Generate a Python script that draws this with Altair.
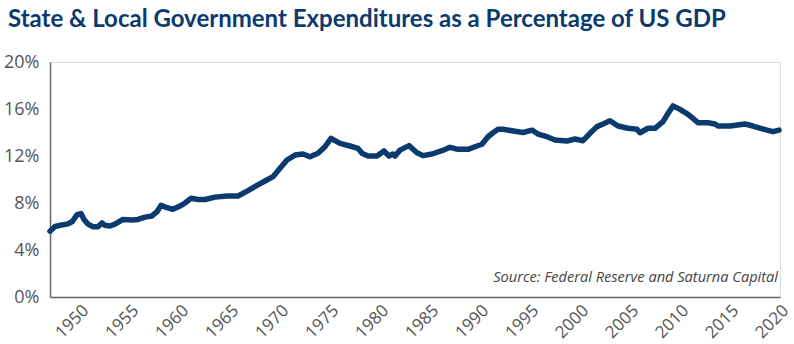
import altair as alt
import pandas as pd

years = [1947.0, 1947.5, 1948.0, 1948.7, 1949.2, 1949.7, 1950.1, 1950.4, 1950.8, 1951.3,
         1951.8, 1952.2, 1952.5, 1953.0, 1953.5, 1954.3, 1955.2, 1955.8, 1956.5, 1957.2,
         1957.7, 1958.1, 1958.7, 1959.3, 1960.0, 1960.5, 1961.1, 1961.8, 1962.5, 1963.5,
         1964.7, 1965.8, 1966.8, 1967.7, 1968.5, 1969.3, 1970.0, 1970.7, 1971.5, 1972.3,
         1973.0, 1973.8, 1974.5, 1975.1, 1976.0, 1977.0, 1977.8, 1978.2, 1978.8, 1979.7,
         1980.4, 1980.9, 1981.3, 1981.5, 1982.0, 1982.9, 1983.7, 1984.3, 1985.2, 1986.2,
         1987.0, 1987.8, 1988.8, 1989.7, 1990.2, 1990.8, 1991.3, 1991.8, 1992.3, 1993.2,
         1994.3, 1995.2, 1995.8, 1996.7, 1997.5, 1998.7, 1999.5, 2000.3, 2001.0, 2001.7,
         2002.3, 2003.0, 2003.8, 2004.8, 2005.7, 2006.0, 2006.8, 2007.5, 2008.3, 2008.8,
         2009.3, 2010.0, 2010.8, 2011.3, 2011.8, 2012.8, 2013.5, 2013.8, 2015.0, 2016.5,
         2017.3, 2018.7, 2019.3, 2019.9]
pct = [5.6, 6.0, 6.1, 6.2, 6.4, 7.0, 7.1, 6.6, 6.2, 5.98,
       5.98, 6.3, 6.1, 6.04, 6.2, 6.6, 6.55, 6.6, 6.8, 6.9,
       7.26, 7.8, 7.6, 7.46, 7.74, 8.0, 8.4, 8.3, 8.3, 8.5,
       8.6, 8.6, 9.05, 9.5, 9.87, 10.24, 10.95, 11.66, 12.08, 12.17,
       11.94, 12.23, 12.79, 13.5, 13.08, 12.85, 12.65, 12.23, 12.0, 12.0,
       12.43, 12.0, 12.17, 12.0, 12.5, 12.88, 12.28, 12.03, 12.17, 12.45,
       12.74, 12.57, 12.57, 12.85, 13.0, 13.64, 13.98, 14.27, 14.27, 14.15,
       14.0, 14.2, 13.87, 13.64, 13.36, 13.28, 13.45, 13.3, 13.93, 14.5,
       14.72, 15.0, 14.55, 14.36, 14.27, 13.98, 14.36, 14.36, 14.92, 15.63,
       16.26, 15.97, 15.55, 15.2, 14.83, 14.83, 14.72, 14.55, 14.55, 14.72,
       14.55, 14.2, 14.07, 14.2]

tick_years = [1950, 1955, 1960, 1965, 1970, 1975, 1980, 1985, 1990, 1995, 2000, 2005, 2010, 2015, 2020]
y_ticks = [0, 4, 8, 12, 16, 20]
source_note = ["Source: Federal Reserve and Saturna Capital"]
title_text = ["State & Local Government Expenditures as a Percentage of US GDP"]

df = pd.DataFrame({"year": years, "pct": pct})
src = pd.DataFrame({"t": source_note})
ttl = pd.DataFrame({"t": title_text})

line = alt.Chart(df).mark_line(color="#0b3b6e", strokeWidth=5.5, strokeJoin="round", strokeCap="round").encode(
    x=alt.X("year:Q", scale=alt.Scale(domain=[1947, 2020], nice=False, zero=False),
            axis=alt.Axis(values=tick_years, format="d", labelAngle=-45, title=None, ticks=False,
                          grid=False, labelPadding=5, labelFontSize=17, labelColor="#555555",
                          labelFont="Open Sans", domainColor="#666666", domainWidth=1.5)),
    y=alt.Y("pct:Q", scale=alt.Scale(domain=[0, 20], nice=False),
            axis=alt.Axis(values=y_ticks, labelExpr="datum.value + '%'", title=None, ticks=False,
                          grid=False, labelPadding=11, labelFontSize=18, labelColor="#555555",
                          labelFont="Open Sans", domainColor="#666666", domainWidth=1.5)),
)

note = alt.Chart(src).mark_text(align="right", baseline="middle", fontStyle="italic", fontSize=14.6,
                                font="Open Sans", color="#444444").encode(
    x=alt.value(728), y=alt.value(216), text="t:N")

title_mark = alt.Chart(ttl).mark_text(align="left", baseline="alphabetic", fontSize=24, fontWeight="bold",
                                      font="Lato", color="#0b3b6e").encode(
    x=alt.value(-42), y=alt.value(-35), text="t:N")

chart = alt.layer(line, note, title_mark).properties(
    width=730, height=235,
    autosize=alt.AutoSizeParams(type="none"),
    padding={"left": 50, "top": 62, "right": 14, "bottom": 47},
).configure_view(stroke=None).configure(background="white")

chart.save("out.html", embed_options={"renderer": "svg", "actions": False})
